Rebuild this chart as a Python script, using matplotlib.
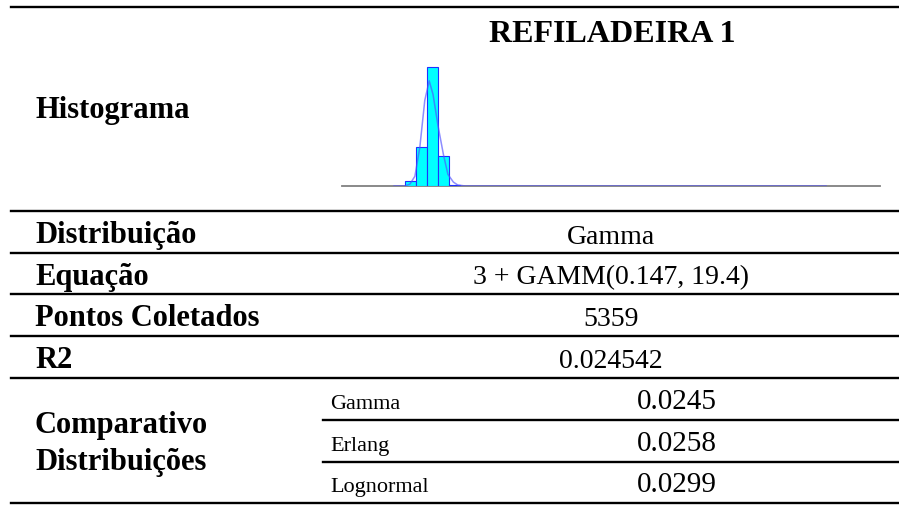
import numpy as np
import matplotlib.pyplot as plt

# histogram (relative frequencies)
bin_edges = [6, 7, 8, 9, 10, 11]
freq = [0.026, 0.202, 0.611, 0.155, 0.005]
# fitted curve, points
curve_x = [5.0, 6.0, 6.45, 6.9, 7.35, 7.8, 8.2, 8.55, 9.0, 9.5, 9.9, 10.4, 10.8, 11.5, 44.3]
curve_y = [0.0, 0.0, 0.01, 0.05, 0.2, 0.44, 0.54, 0.47, 0.31, 0.16, 0.06, 0.02, 0.005, 0.0, 0.0]

title = 'REFILADEIRA 1'
row_labels = ['Distribuição', 'Equação', 'Pontos Coletados', 'R2']
row_values = ['Gamma', '3 + GAMM(0.147, 19.4)', '5359', '0.024542']
comp_label = 'Comparativo\nDistribuições'
comp_names = ['Gamma', 'Erlang', 'Lognormal']
comp_values = ['0.0245', '0.0258', '0.0299']

W, H = 899, 505
plt.rcParams['font.family'] = ['Liberation Serif', 'DejaVu Serif']
fig = plt.figure(figsize=(W / 100, H / 100), dpi=100)


def fx(px):
    return px / W


def fy(py):
    return 1 - py / H


def hline(y, x0=11, x1=899):
    fig.add_artist(plt.Line2D([fx(x0), fx(x1)], [fy(y), fy(y)], color='black', lw=1.7))


# horizontal rules
lines_y = [211, 253, 294, 336, 378, 420, 462, 503]
hline(7)
for i, y in enumerate(lines_y):
    if i in (5, 6):
        hline(y, x0=323)
    else:
        hline(y)

fig.text(fx(612), fy(42), title, ha='center', va='baseline', fontsize=23, fontweight='bold')
fig.text(fx(35), fy(118), 'Histograma', ha='left', va='baseline', fontsize=22, fontweight='bold')

# histogram
ax = fig.add_axes([fx(342), fy(186), fx(880) - fx(342), (186 - 60) / H])
ax.bar(bin_edges[:-1], freq, width=1, align='edge', color='#00ffff', edgecolor='#2030ff', lw=0.8)
ax.plot(curve_x, curve_y, color='#5050ff', lw=1.1, alpha=0.65)
ax.axhline(0, color='#808080', lw=1.3, zorder=0, clip_on=False)
ax.set_xlim(0.27, 49.2)
ax.set_ylim(0, 0.611 * 126 / 119)
ax.axis('off')

# table rows
for i, (lab, val) in enumerate(zip(row_labels, row_values)):
    yb = lines_y[i + 1] - 9.5
    fig.text(fx(35), fy(yb), lab, ha='left', va='baseline', fontsize=22, fontweight='bold')
    fig.text(fx(611), fy(yb), val, ha='center', va='baseline', fontsize=20)

for yb, part in zip([433, 470], comp_label.split('\n')):
    fig.text(fx(35), fy(yb), part, ha='left', va='baseline', fontsize=22, fontweight='bold')
for i, (nm, val) in enumerate(zip(comp_names, comp_values)):
    yb = lines_y[5 + i] - 11
    fig.text(fx(330), fy(yb), nm, ha='left', va='baseline', fontsize=16)
    fig.text(fx(677), fy(yb), val, ha='center', va='baseline', fontsize=21)

fig.savefig('out.png', dpi=100)
